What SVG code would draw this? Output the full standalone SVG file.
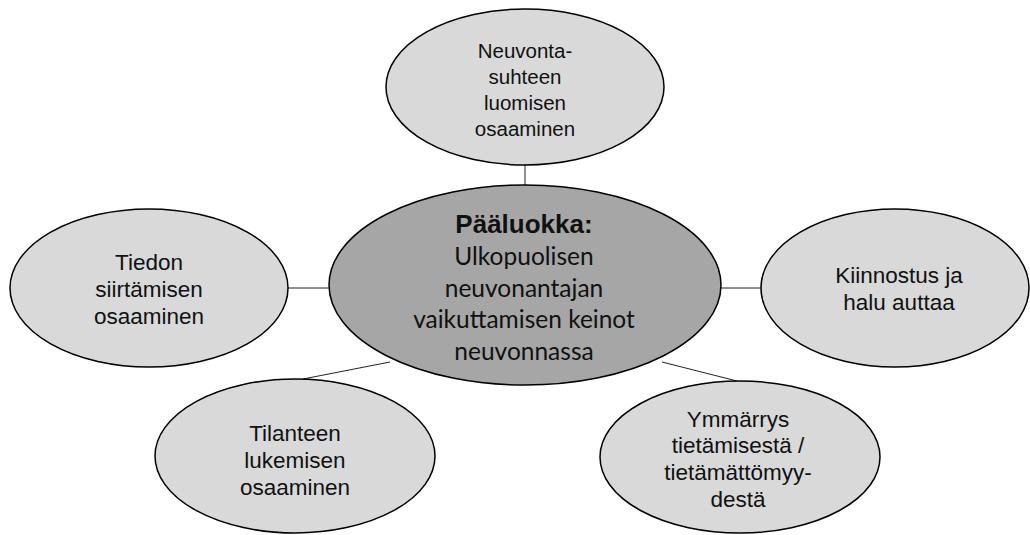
<svg xmlns="http://www.w3.org/2000/svg" width="1030" height="535" viewBox="0 0 1030 535">
  <style>
    .node { fill: #d9d9d9; stroke: #000; stroke-width: 1.5; }
    .core { fill: #a6a6a6; stroke: #000; stroke-width: 1.5; }
    .lbl { font-family: "Liberation Sans", Arial, sans-serif; font-size: 22.5px; fill: #111; text-anchor: middle; }
    .lbl.small { font-size: 20.5px; }
    .head { font-family: "Liberation Sans", Arial, sans-serif; font-size: 26px; font-weight: bold; fill: #111; text-anchor: middle; }
    .sub { font-family: Lato, "Open Sans", sans-serif; font-size: 24.5px; fill: #111; text-anchor: middle; }
    .link { stroke: #222; stroke-width: 1; fill: none; }
  </style>
  <rect width="1030" height="535" fill="#fff"/>

  <!-- spokes from the core to each satellite -->
  <g id="connectors">
    <line class="link" x1="525" y1="165" x2="525" y2="186"/>
    <line class="link" x1="288" y1="288" x2="330" y2="288"/>
    <line class="link" x1="720" y1="288" x2="762" y2="288"/>
    <line class="link" x1="303" y1="379" x2="390" y2="362"/>
    <line class="link" x1="662" y1="362" x2="737" y2="381"/>
  </g>

  <g id="node-top">
    <ellipse class="node" cx="525" cy="87" rx="139" ry="78"/>
    <text class="lbl small" x="525" y="58">Neuvonta-</text>
    <text class="lbl small" x="525" y="84">suhteen</text>
    <text class="lbl small" x="525" y="110">luomisen</text>
    <text class="lbl small" x="525" y="136">osaaminen</text>
  </g>

  <g id="node-left">
    <ellipse class="node" cx="149" cy="288" rx="139" ry="79"/>
    <text class="lbl" x="149" y="270">Tiedon</text>
    <text class="lbl" x="149" y="297">siirtämisen</text>
    <text class="lbl" x="149" y="324">osaaminen</text>
  </g>

  <g id="node-right">
    <ellipse class="node" cx="895" cy="288" rx="134" ry="79"/>
    <text class="lbl" x="899" y="283">Kiinnostus ja</text>
    <text class="lbl" x="899" y="310">halu auttaa</text>
  </g>

  <g id="node-bottom-left">
    <ellipse class="node" cx="295" cy="456" rx="140" ry="77"/>
    <text class="lbl" x="295" y="441">Tilanteen</text>
    <text class="lbl" x="295" y="468">lukemisen</text>
    <text class="lbl" x="295" y="495">osaaminen</text>
  </g>

  <g id="node-bottom-right">
    <ellipse class="node" cx="740" cy="457" rx="140" ry="76"/>
    <text class="lbl" x="738" y="427">Ymmärrys</text>
    <text class="lbl" x="738" y="453">tietämisestä /</text>
    <text class="lbl" x="738" y="480">tietämättömyy-</text>
    <text class="lbl" x="738" y="507">destä</text>
  </g>

  <g id="node-center">
    <ellipse class="core" cx="525" cy="285" rx="196" ry="100"/>
    <text class="head" x="524" y="233">Pääluokka:</text>
    <text class="sub" x="524" y="265">Ulkopuolisen</text>
    <text class="sub" x="524" y="297">neuvonantajan</text>
    <text class="sub" x="524" y="328">vaikuttamisen keinot</text>
    <text class="sub" x="524" y="360">neuvonnassa</text>
  </g>
</svg>
